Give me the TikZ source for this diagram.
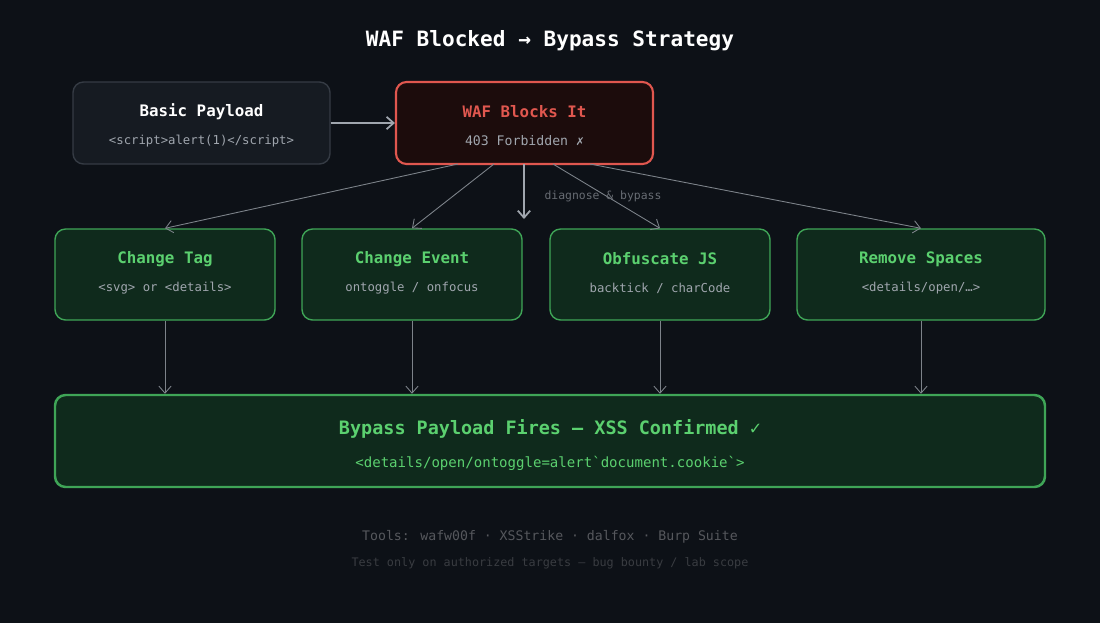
\documentclass[tikz,border=0pt]{standalone}
\usepackage{fontspec}
\setmainfont{DejaVu Sans Mono}[Ligatures=TeXOff]
\usetikzlibrary{arrows.meta}
\definecolor{bg}{HTML}{0D1117}
\definecolor{gbox}{HTML}{0F2A1C}
\definecolor{gline}{HTML}{3FA557}
\definecolor{gtext}{HTML}{5BD06F}
\definecolor{rfill}{HTML}{1C0C0C}
\definecolor{rline}{HTML}{E0574F}
\definecolor{nfill}{HTML}{161B22}
\definecolor{nline}{HTML}{353B44}
\definecolor{sub}{HTML}{A0A6AE}
\definecolor{conn}{HTML}{7D838A}
\newcommand{\bq}{{\char"60}}
\begin{document}
\begin{tikzpicture}[x=0.02cm,y=-0.02cm,
 box/.style={draw,rounded corners=6pt,line width=0.8pt},
 ttl/.style={font=\fontsize{9}{10}\selectfont\bfseries},
 sm/.style={font=\fontsize{7}{8}\selectfont,text=sub},
 arr/.style={-{Straight Barb[length=4pt,width=7pt]},draw=conn,line width=0.5pt}]
\fill[bg] (0,0) rectangle (1100,623);
\node[text=white,font=\fontsize{12}{14}\selectfont\bfseries] (title) at (550,41) {WAF Blocked → Bypass Strategy};
\node[box,fill=nfill,draw=nline,minimum width=257*0.02cm,minimum height=82*0.02cm] (basic) at (201.5,123) {};
\node[ttl,text=white] (bt) at (201.5,112) {Basic Payload};
\node[sm] (bs) at (201.5,141) {<script>alert(1)</script>};
\node[box,fill=rfill,draw=rline,line width=1.2pt,minimum width=257*0.02cm,minimum height=82*0.02cm] (waf) at (524.5,123) {};
\node[ttl,text=rline] (wt) at (524.5,112) {WAF Blocks It};
\node[sm,font=\fontsize{7.5}{8}\selectfont] (ws) at (524.5,141) {403 Forbidden ✗};
\draw[arr,draw=sub,line width=1pt] (basic.east) -- (waf.west);
\foreach \n/\cx/\w/\t/\s in {a/165/220/Change Tag/{<svg> or <details>},b/412/220/Change Event/{ontoggle / onfocus},c/660/220/Obfuscate JS/{backtick / charCode},d/921/248/Remove Spaces/{<details/open/…>}}{
 \node[box,fill=gbox,draw=gline,minimum width=\w*0.02cm,minimum height=91*0.02cm] (\n) at (\cx,274.5) {};
 \node[ttl,text=gtext] (\n t) at (\cx,259) {\t};
 \node[sm] (\n s) at (\cx,288) {\s};
}
\node[box,fill=gbox,draw=gline,line width=1.4pt,minimum width=990*0.02cm,minimum height=92*0.02cm] (fin) at (550,441) {};
\node[text=gtext,font=\fontsize{10.5}{12}\selectfont\bfseries] (ft) at (550,429) {Bypass Payload Fires — XSS Confirmed ✓};
\node[text=gtext,font=\fontsize{8}{10}\selectfont] (fs) at (550,463) {<details/open/ontoggle=alert\bq document.cookie\bq>};
\coordinate (w1) at (458,164); \coordinate (w2) at (494,164); \coordinate (w3) at (524,164);
\coordinate (w4) at (553,164); \coordinate (w5) at (590,164); \coordinate (mid) at (524,219);
\draw[arr] (w1) -- (a.north); \draw[arr] (w2) -- (b.north);
\draw[arr] (w4) -- (c.north); \draw[arr] (w5) -- (d.north);
\draw[arr,draw=sub,line width=1pt] (w3) -- (mid);
\node[font=\fontsize{6.5}{8}\selectfont,text=conn!80!bg] (lbl) at (603,196) {diagnose \& bypass};
\foreach \n in {a,b,c,d}{ \draw[arr] (\n.south) -- (\n.south |- fin.north); }
\node[font=\fontsize{7.5}{9}\selectfont,text=white!30!bg] (tools) at (550,537) {Tools: wafw00f · XSStrike · dalfox · Burp Suite};
\node[font=\fontsize{6.7}{8}\selectfont,text=white!18!bg] (note) at (550,563) {Test only on authorized targets — bug bounty / lab scope};
\end{tikzpicture}
\end{document}
